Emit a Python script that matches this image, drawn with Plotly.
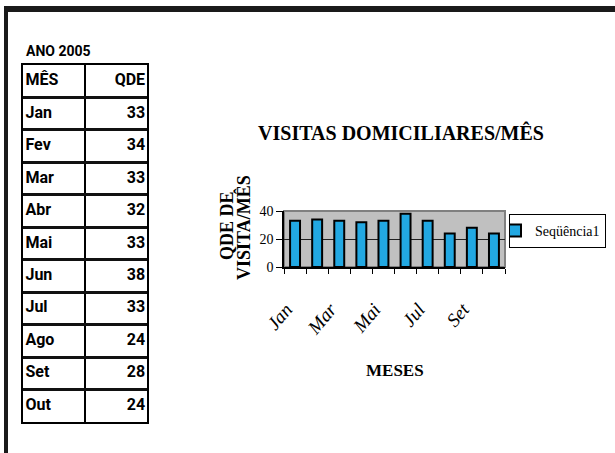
import plotly.graph_objects as go

# ---- data ----
meses = ["Jan", "Fev", "Mar", "Abr", "Mai", "Jun", "Jul", "Ago", "Set", "Out"]
qde = [33, 34, 33, 32, 33, 38, 33, 24, 28, 24]
serie_nome = "Seqüência1"
ano_label = "ANO 2005"
col_headers = ["MÊS", "QDE"]
titulo = "VISITAS DOMICILIARES/MÊS"
ytitle_lines = ["QDE DE", "VISITA/MÊS"]
xtitle = "MESES"
yticks = [0, 20, 40]

W, H = 615, 453
def px(x):
    return x / W
def py(y):
    return 1 - y / H

NARROW = "Roboto, Liberation Sans Narrow, Arial Narrow, sans-serif"
SERIF = "Liberation Serif, Times New Roman, serif"

fig = go.Figure()

rows = [col_headers[0]] + meses
fig.add_trace(go.Scatter(
    x=[0.04] * len(rows), y=rows, text=[f"<b>{t}</b>" for t in rows],
    mode="text", textposition="middle right", xaxis="x2", yaxis="y2",
    textfont=dict(family=NARROW, size=16, color="black"),
    hoverinfo="skip", showlegend=False, cliponaxis=False,
))
fig.add_trace(go.Scatter(
    x=[1.97] * len(rows), y=rows,
    text=[f"<b>{t}</b>" for t in [col_headers[1]] + [str(v) for v in qde]],
    mode="text", textposition="middle left", xaxis="x2", yaxis="y2",
    textfont=dict(family=NARROW, size=16, color="black"),
    hoverinfo="skip", showlegend=False, cliponaxis=False,
))

fig.add_trace(go.Bar(
    x=meses, y=qde, name=serie_nome,
    marker=dict(color="#22A8E2", line=dict(color="black", width=2)),
    showlegend=True,
))

fig.update_layout(
    template="none",
    width=W, height=H, autosize=False,
    margin=dict(l=0, r=0, t=0, b=0, pad=0, autoexpand=False),
    paper_bgcolor="white",
    plot_bgcolor="#C0C0C0",
    bargap=0.55,
    font=dict(family=SERIF, color="black"),
    title=dict(
        text=f"<b>{titulo}</b>",
        x=px(401), y=py(133), xanchor="center", yanchor="middle",
        font=dict(family=SERIF, size=20, color="black"),
    ),
    xaxis=dict(
        domain=[px(284), px(505)],
        type="category",
        tickmode="array",
        tickvals=meses,
        ticktext=[m if i % 2 == 0 else "" for i, m in enumerate(meses)],
        tickangle=-50,
        tickson="boundaries",
        ticks="outside", ticklen=5, tickcolor="black", tickwidth=1,
        ticklabelstandoff=22, ticklabelshift=-9,
        showgrid=False, zeroline=False,
        showline=True, linecolor="black", linewidth=1.5,
        tickfont=dict(family=SERIF, size=19, style="italic", color="black"),
        fixedrange=True, automargin=False,
    ),
    yaxis=dict(
        domain=[py(267), py(211)],
        range=[0, 40],
        tickvals=yticks,
        ticks="outside", ticklen=6, tickcolor="black", tickwidth=1,
        showgrid=True, gridcolor="#202020", gridwidth=1,
        zeroline=False,
        showline=True, linecolor="black", linewidth=1.5,
        tickfont=dict(family=SERIF, size=14, color="black"),
        fixedrange=True, automargin=False,
    ),
    xaxis2=dict(
        domain=[px(23), px(147)], anchor="y2",
        range=[0, 2], tickvals=[1], showticklabels=False, ticks="",
        showgrid=True, gridcolor="black", gridwidth=2,
        zeroline=False, showline=True, mirror=True, linecolor="black", linewidth=2,
        fixedrange=True, automargin=False,
    ),
    yaxis2=dict(
        domain=[py(422), py(65)], anchor="x2",
        type="category", categoryorder="array", categoryarray=rows,
        range=[len(rows) - 0.5, -0.5], tickson="boundaries",
        showticklabels=False, ticks="",
        showgrid=True, gridcolor="#111111", gridwidth=2.5,
        zeroline=False, showline=True, mirror=True, linecolor="black", linewidth=2,
        fixedrange=True, automargin=False,
    ),
    legend=dict(
        x=px(509), y=py(214), xanchor="left", yanchor="top",
        bgcolor="white", bordercolor="black", borderwidth=1,
        font=dict(family=SERIF, size=14, color="black"),
        itemwidth=30, indentation=-15,
    ),
    shapes=[
        dict(type="rect", xref="x2 domain", yref="y2 domain", x0=0, x1=1, y0=0, y1=1,
             fillcolor="white", line=dict(width=0), layer="below"),
        dict(type="rect", xref="x domain", yref="y domain", x0=0, x1=1, y0=0, y1=1,
             line=dict(color="#808080", width=2), layer="below"),
        dict(type="rect", xref="paper", yref="paper", x0=px(4), x1=1, y0=py(12), y1=py(6),
             fillcolor="#1a1a1a", line=dict(width=0)),
        dict(type="rect", xref="paper", yref="paper", x0=px(4), x1=px(8), y0=0, y1=py(6),
             fillcolor="#1a1a1a", line=dict(width=0)),
    ],
    annotations=[
        dict(text=f"<b>{ano_label}</b>", x=px(24), y=py(51), xref="paper", yref="paper",
             xanchor="left", yanchor="middle", showarrow=False,
             font=dict(family=NARROW, size=14, color="black")),
        dict(text=f"<b>{ytitle_lines[0]}</b>", x=px(227), y=py(225), xref="paper", yref="paper",
             xanchor="center", yanchor="middle", textangle=-90, showarrow=False,
             font=dict(family=SERIF, size=18, color="black")),
        dict(text=f"<b>{ytitle_lines[1]}</b>", x=px(243), y=py(228), xref="paper", yref="paper",
             xanchor="center", yanchor="middle", textangle=-90, showarrow=False,
             font=dict(family=SERIF, size=18, color="black")),
        dict(text=f"<b>{xtitle}</b>", x=px(395), y=py(370), xref="paper", yref="paper",
             xanchor="center", yanchor="middle", showarrow=False,
             font=dict(family=SERIF, size=17, color="black")),
    ],
)

fig.write_html("out.html", config={"displayModeBar": False},
               post_script="document.body.style.margin='0';document.body.style.overflow='hidden';")
